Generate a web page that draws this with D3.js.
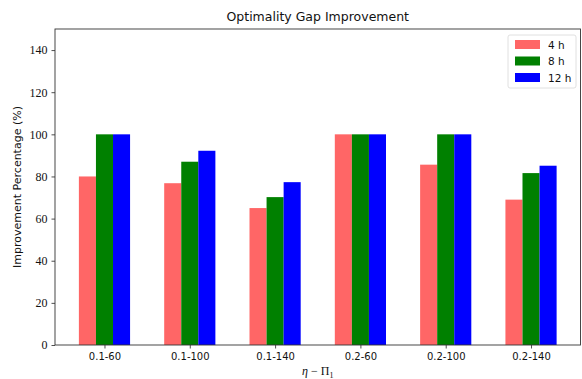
<!DOCTYPE html>
<html>
<head>
<meta charset="utf-8">
<script src="https://cdn.jsdelivr.net/npm/d3@7/dist/d3.min.js"></script>
<style>
  body { margin: 0; background: #fff; }
  svg { display: block; }
</style>
</head>
<body>
<svg id="chart" width="582" height="379"></svg>
<script>
// Configurations (eta - Pi_1) on the x axis
const categories = ["0.1-60", "0.1-100", "0.1-140", "0.2-60", "0.2-100", "0.2-140"];
// Improvement percentage per time budget
const values4h  = [80, 76.8, 65, 100, 85.6, 69];
const values8h  = [100, 87, 70.2, 100, 100, 81.6];
const values12h = [100, 92.2, 77.3, 100, 100, 85.1];
const seriesNames = ["4 h", "8 h", "12 h"];
const seriesColors = ["#ff6666", "#008000", "#0000ff"];
const yTicks = [0, 20, 40, 60, 80, 100, 120, 140];

const series = [values4h, values8h, values12h];
const barWidth = 0.2;

const svg = d3.select("#chart");
const plotLeft = 55, plotRight = 580.5, plotTop = 29, plotBottom = 345;

const x = d3.scaleLinear().domain([-0.58, categories.length - 1 + 0.58]).range([plotLeft, plotRight]);
const y = d3.scaleLinear().domain([0, 150]).range([plotBottom, plotTop]);

// Bars
series.forEach((vals, s) => {
  svg.append("g")
    .selectAll("rect")
    .data(vals)
    .join("rect")
    .attr("x", (d, i) => x(i + (s - 1) * barWidth - barWidth / 2))
    .attr("width", x(barWidth) - x(0))
    .attr("y", d => y(d))
    .attr("height", d => y(0) - y(d))
    .attr("fill", seriesColors[s]);
});

// Axes
const xAxis = d3.axisBottom(x)
  .tickValues(d3.range(categories.length))
  .tickFormat(i => categories[i])
  .tickSize(3.5).tickPadding(4);
const yAxis = d3.axisLeft(y)
  .tickValues(yTicks)
  .tickSize(3.5).tickPadding(4);

const gx = svg.append("g").attr("transform", `translate(0,${plotBottom})`).call(xAxis);
gx.select(".domain").remove();
gx.selectAll("line").attr("stroke", "#222").attr("stroke-width", 0.8);
gx.selectAll("text").attr("font-family", "DejaVu Sans, sans-serif").attr("font-size", 10).attr("fill", "#111");

const gy = svg.append("g").attr("transform", `translate(${plotLeft},0)`).call(yAxis);
gy.select(".domain").remove();
gy.selectAll("line").attr("stroke", "#222").attr("stroke-width", 0.8);
gy.selectAll("text").attr("font-family", "Liberation Serif, serif").attr("font-size", 12).attr("fill", "#111");

// Frame
svg.append("rect")
  .attr("x", plotLeft).attr("y", plotTop)
  .attr("width", plotRight - plotLeft).attr("height", plotBottom - plotTop)
  .attr("fill", "none").attr("stroke", "#333").attr("stroke-width", 0.9);

// Title
svg.append("text")
  .attr("x", (plotLeft + plotRight) / 2).attr("y", 21)
  .attr("text-anchor", "middle")
  .attr("font-family", "DejaVu Sans, sans-serif").attr("font-size", 12.5).attr("fill", "#111")
  .text("Optimality Gap Improvement");

// Axis labels
const xl = svg.append("text")
  .attr("x", (plotLeft + plotRight) / 2).attr("y", 375)
  .attr("text-anchor", "middle")
  .attr("font-family", "Liberation Serif, serif").attr("font-size", 12).attr("fill", "#111");
xl.append("tspan").attr("font-style", "italic").text("η");
xl.append("tspan").text(" − Π");
xl.append("tspan").attr("font-size", 8).attr("dy", 3).text("1");

svg.append("text")
  .attr("transform", `translate(21,${(plotTop + plotBottom) / 2}) rotate(-90)`)
  .attr("text-anchor", "middle")
  .attr("font-family", "DejaVu Sans, sans-serif").attr("font-size", 11).attr("fill", "#111")
  .text("Improvement Percentage (%)");

// Legend
const lg = svg.append("g").attr("transform", "translate(508,35)");
lg.append("rect")
  .attr("width", 68).attr("height", 53).attr("rx", 2)
  .attr("fill", "#fff").attr("stroke", "#d8d8d8").attr("stroke-width", 0.8);
seriesNames.forEach((name, i) => {
  lg.append("rect")
    .attr("x", 7).attr("y", 5 + i * 16.5)
    .attr("width", 25).attr("height", 9)
    .attr("fill", seriesColors[i]);
  lg.append("text")
    .attr("x", 40).attr("y", 13.5 + i * 16.5)
    .attr("font-family", "DejaVu Sans, sans-serif").attr("font-size", 10.5).attr("fill", "#111")
    .text(name);
});
</script>
</body>
</html>
